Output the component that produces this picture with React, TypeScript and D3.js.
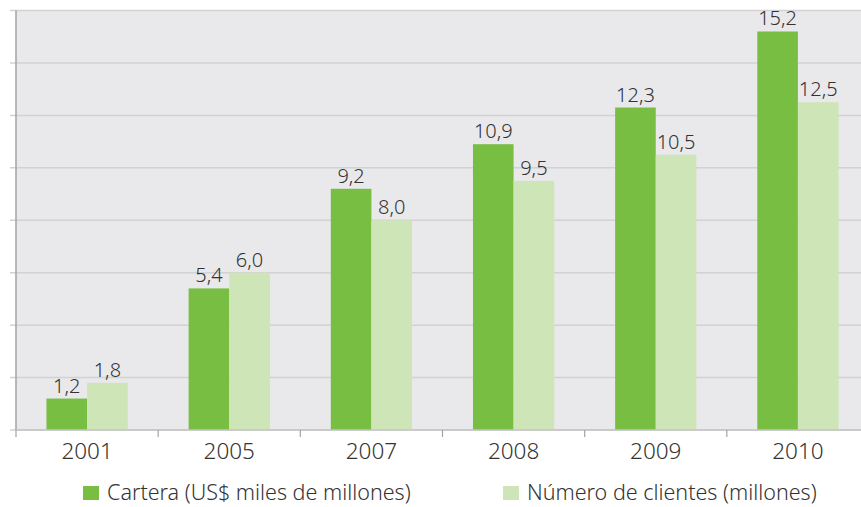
import React from 'react';
import * as d3 from 'd3';

// chart values
const years = ['2001', '2005', '2007', '2008', '2009', '2010'];
const cartera = [1.2, 5.4, 9.2, 10.9, 12.3, 15.2];
const clientes = [1.8, 6.0, 8.0, 9.5, 10.5, 12.5];
const seriesNames = ['Cartera (US$ miles de millones)', 'Número de clientes (millones)'];
const yTicks = [0, 2, 4, 6, 8, 10, 12, 14, 16];

const width = 861;
const height = 507;
const left = 16;
const right = 869;
const top = 10.5;
const bottom = 430;
const colors = ['#78be43', '#cde5b7'];
const font = '"Noto Sans", sans-serif';

const fmt = (v: number) => v.toFixed(1).replace('.', ',');

function App() {
  const x = d3.scaleBand().domain(years).range([left, right]).paddingInner(0).paddingOuter(0);
  const inner = d3.scaleBand().domain(['0', '1']).range([0, x.bandwidth()]).paddingOuter(0.75).paddingInner(0);
  const y = d3.scaleLinear().domain([0, 16]).range([bottom, top]);
  const series = [cartera, clientes];

  return (
    <svg width={width} height={height} style={{ position: 'absolute', left: 0, top: 0 }}>
      <rect x={left} y={top} width={right - left} height={bottom - top} fill="#e9e9ec" />
      {yTicks.map((t) => (
        <line key={t} x1={left - 6} x2={width} y1={y(t)} y2={y(t)} stroke="#d2d2d4" strokeWidth={1.5} />
      ))}
      {series.map((vals, si) =>
        years.map((yr, i) => (
          <rect
            key={si + yr}
            x={(x(yr) as number) + (inner(String(si)) as number)}
            y={y(vals[i])}
            width={inner.bandwidth()}
            height={bottom - y(vals[i])}
            fill={colors[si]}
          />
        ))
      )}
      <line x1={left} x2={left} y1={top} y2={bottom} stroke="#a3a3a5" strokeWidth={1.5} />
      <line x1={left} x2={width} y1={bottom} y2={bottom} stroke="#c4c4c6" strokeWidth={1.5} />
      {years.map((yr) => (
        <line key={'t' + yr} x1={x(yr)} x2={x(yr)} y1={bottom} y2={bottom + 7} stroke="#a3a3a5" strokeWidth={1.2} />
      ))}
      {series.map((vals, si) =>
        years.map((yr, i) => (
          <text
            key={'v' + si + yr}
            x={(x(yr) as number) + (inner(String(si)) as number) + inner.bandwidth() / 2}
            y={y(vals[i]) - 6}
            textAnchor="middle"
            fontFamily={font}
            fontSize={20}
            fontWeight={300}
            fill="#333"
          >
            {fmt(vals[i])}
          </text>
        ))
      )}
      {years.map((yr) => (
        <text
          key={'l' + yr}
          x={(x(yr) as number) + x.bandwidth() / 2}
          y={459}
          textAnchor="middle"
          fontFamily={font}
          fontSize={22.5}
          fontWeight={300}
          fill="#333"
        >
          {yr}
        </text>
      ))}
      {seriesNames.map((name, si) => {
        const lx = si === 0 ? 83 : 503;
        return (
          <g key={name}>
            <rect x={lx} y={486} width={16} height={14} fill={colors[si]} />
            <text x={lx + 24} y={500} fontFamily={font} fontSize={21.5} fontWeight={300} fill="#333">
              {name}
            </text>
          </g>
        );
      })}
    </svg>
  );
}

export default App;
